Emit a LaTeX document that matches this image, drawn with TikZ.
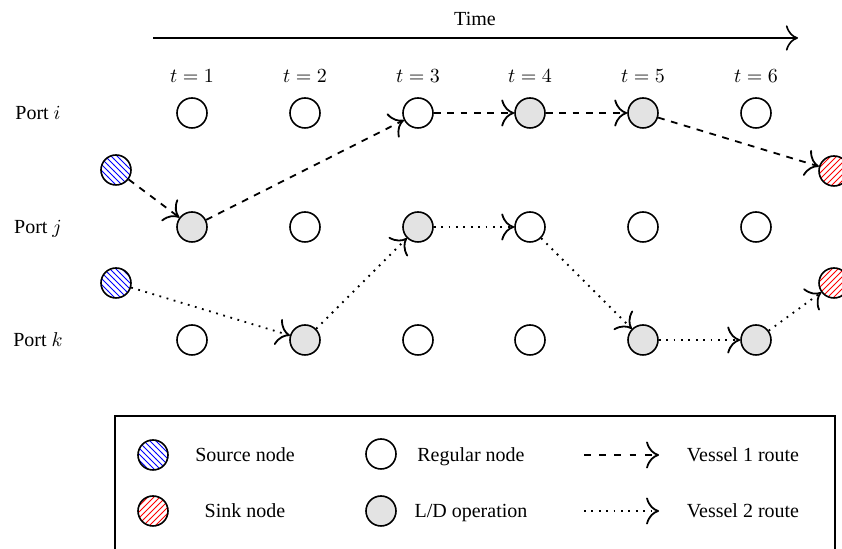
\documentclass[tikz,border=0pt]{standalone}
\usepackage[no-math]{fontspec}
\setmainfont{Liberation Serif}
\usetikzlibrary{patterns,arrows.meta}

\tikzset{
  >={To[scale=1.8]},
  pnode/.style={circle, draw, thick, minimum size=15pt, inner sep=0pt},
  regular/.style={pnode, fill=white},
  ldop/.style={pnode, fill=gray!22},
  source/.style={pnode, pattern=north west lines, pattern color=blue},
  sink/.style={pnode, pattern=north east lines, pattern color=red},
  route1/.style={line width=0.9pt, dash pattern=on 3.4pt off 3.3pt, ->},
  route2/.style={line width=0.9pt, dash pattern=on 0.9pt off 2.8pt, ->},
  lbl/.style={inner sep=0pt, anchor=base, font=\fontsize{10}{12}\selectfont},
}

\begin{document}
\begin{tikzpicture}[x=0.5pt, y=-0.5pt]
\useasboundingbox (0,0) rectangle (842,549);

% time axis
\coordinate (tstart) at (153,38);
\coordinate (tend) at (798,38);
\draw[thick, ->] (tstart) -- (tend);
\node[lbl] (timelbl) at (475,26) {Time};

% period labels
\foreach \c/\x in {1/192,2/305,3/418,4/530,5/643,6/756}
  \node[lbl] (t\c) at (\x,83) {$t=\c$};

% port labels
\node[lbl] (porti) at (38,120) {Port $i$};
\node[lbl] (portj) at (38,234) {Port $j$};
\node[lbl] (portk) at (38,347) {Port $k$};

% time-space nodes
\foreach \c/\x/\s in {1/192/regular,2/305/regular,3/418/regular,4/530/ldop,5/643/ldop,6/756/regular}
  \node[\s] (i\c) at (\x,113) {};
\foreach \c/\x/\s in {1/192/ldop,2/305/regular,3/418/ldop,4/530/regular,5/643/regular,6/756/regular}
  \node[\s] (j\c) at (\x,227) {};
\foreach \c/\x/\s in {1/192/regular,2/305/ldop,3/418/regular,4/530/regular,5/643/ldop,6/756/ldop}
  \node[\s] (k\c) at (\x,340) {};

% sources and sinks
\node[source] (src1) at (116,170) {};
\node[source] (src2) at (116,283) {};
\node[sink] (snk1) at (834,171) {};
\node[sink] (snk2) at (834,283) {};

% vessel 1
\draw[route1] (src1) -- (j1);
\draw[route1] (j1) -- (i3);
\draw[route1] (i3) -- (i4);
\draw[route1] (i4) -- (i5);
\draw[route1] (i5) -- (snk1);

% vessel 2
\draw[route2] (src2) -- (k2);
\draw[route2] (k2) -- (j3);
\draw[route2] (j3) -- (j4);
\draw[route2] (j4) -- (k5);
\draw[route2] (k5) -- (k6);
\draw[route2] (k6) -- (snk2);

% legend
\draw[thick] (115,416) rectangle (835,560);
\node[source] (lsrc) at (153,455) {};
\node[lbl] (lsrct) at (245,462) {Source node};
\node[sink] (lsnk) at (153,511) {};
\node[lbl] (lsnkt) at (245,518) {Sink node};
\node[regular] (lreg) at (381,454) {};
\node[lbl] (lregt) at (471,462) {Regular node};
\node[ldop] (lld) at (381,511) {};
\node[lbl] (lldt) at (471,518) {L/D operation};
\coordinate (l1a) at (584,455);
\coordinate (l1b) at (659,455);
\draw[route1, dash pattern=on 3.4pt off 4.2pt] (l1a) -- (l1b);
\node[lbl] (l1t) at (743,462) {Vessel 1 route};
\coordinate (l2a) at (584,511);
\coordinate (l2b) at (659,511);
\draw[route2] (l2a) -- (l2b);
\node[lbl] (l2t) at (743,518) {Vessel 2 route};
\end{tikzpicture}
\end{document}
